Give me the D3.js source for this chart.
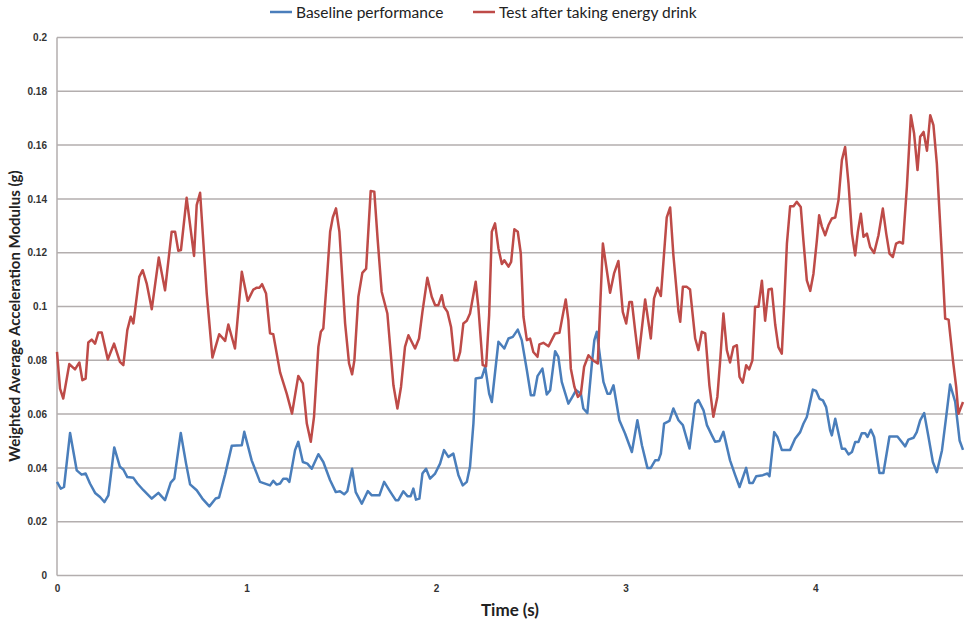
<!DOCTYPE html>
<html>
<head>
<meta charset="utf-8">
<script src="https://cdn.jsdelivr.net/npm/d3@7"></script>
<style>
  body { margin: 0; background: #fff; }
  svg { font-family: Lato, "Open Sans", sans-serif; }
  .grid line { stroke: #b3aeae; stroke-width: 1.5px; }
  .tick text { fill: #333; font-weight: bold; font-size: 10px; }
  .line { fill: none; stroke-width: 2.5px; stroke-linejoin: round; }
</style>
</head>
<body>
<script>
// series names
var seriesNames = ["Baseline performance", "Test after taking energy drink"];
var seriesColors = ["#4a7ebb", "#be4b48"];

var xTicks = [0, 1, 2, 3, 4];
var yTicks = [0, 0.02, 0.04, 0.06, 0.08, 0.1, 0.12, 0.14, 0.16, 0.18, 0.2];

// baseline (blue) - time (s) and value (g)
var baseTime = [0, 0.02, 0.037, 0.069, 0.104, 0.13, 0.151, 0.174, 0.201, 0.227, 0.25, 0.271, 0.302, 0.332, 0.35, 0.371, 0.403, 0.424, 0.456, 0.5,
  0.535, 0.57, 0.6, 0.619, 0.653, 0.681, 0.702, 0.737, 0.767, 0.804, 0.837, 0.855, 0.887, 0.922, 0.975, 0.988, 1.027, 1.071, 1.124, 1.141,
  1.159, 1.177, 1.194, 1.212, 1.226, 1.256, 1.273, 1.297, 1.321, 1.344, 1.379, 1.405, 1.441, 1.471, 1.493, 1.515, 1.532, 1.557, 1.576, 1.608,
  1.64, 1.661, 1.701, 1.726, 1.757, 1.787, 1.801, 1.827, 1.849, 1.866, 1.88, 1.894, 1.912, 1.928, 1.947, 1.968, 1.995, 2.021, 2.042, 2.065,
  2.091, 2.118, 2.141, 2.162, 2.179, 2.197, 2.209, 2.241, 2.259, 2.28, 2.294, 2.329, 2.36, 2.382, 2.405, 2.431, 2.452, 2.479, 2.5, 2.517,
  2.535, 2.561, 2.584, 2.602, 2.628, 2.645, 2.663, 2.698, 2.719, 2.739, 2.764, 2.777, 2.798, 2.822, 2.835, 2.848, 2.865, 2.883, 2.904, 2.918,
  2.936, 2.967, 2.997, 3.033, 3.062, 3.086, 3.115, 3.133, 3.156, 3.173, 3.186, 3.203, 3.231, 3.252, 3.279, 3.302, 3.337, 3.367, 3.384, 3.411,
  3.429, 3.455, 3.472, 3.495, 3.516, 3.551, 3.578, 3.601, 3.636, 3.653, 3.671, 3.689, 3.724, 3.748, 3.759, 3.784, 3.801, 3.824, 3.868, 3.894,
  3.921, 3.938, 3.956, 3.988, 4.005, 4.023, 4.041, 4.058, 4.079, 4.088, 4.106, 4.141, 4.158, 4.176, 4.194, 4.211, 4.228, 4.246, 4.264, 4.276,
  4.294, 4.311, 4.339, 4.36, 4.392, 4.434, 4.457, 4.475, 4.492, 4.519, 4.536, 4.554, 4.575, 4.598, 4.621, 4.642, 4.669, 4.691, 4.712, 4.739,
  4.762, 4.78];
var baseValue = [0.0348, 0.0323, 0.0329, 0.053, 0.0391, 0.0375, 0.0379, 0.0342, 0.0307, 0.0292, 0.0273, 0.0298, 0.0476, 0.0404, 0.0394, 0.0366, 0.0363, 0.0342, 0.0317, 0.0286,
  0.0307, 0.028, 0.0345, 0.036, 0.053, 0.0416, 0.0339, 0.0317, 0.0286, 0.0257, 0.0286, 0.029, 0.0376, 0.0482, 0.0484, 0.0534, 0.0428, 0.0348, 0.0335, 0.0352,
  0.0338, 0.0342, 0.036, 0.036, 0.0348, 0.0466, 0.0497, 0.0422, 0.0416, 0.0397, 0.0451, 0.0422, 0.0354, 0.031, 0.0313, 0.0302, 0.0314, 0.0397, 0.031, 0.0267,
  0.0314, 0.0298, 0.0298, 0.0348, 0.0313, 0.028, 0.028, 0.0313, 0.0295, 0.0295, 0.0323, 0.0282, 0.0286, 0.0379, 0.0397, 0.036, 0.0379, 0.0416, 0.0466, 0.0441,
  0.0453, 0.0373, 0.0335, 0.0348, 0.0404, 0.0565, 0.0732, 0.0736, 0.0776, 0.0676, 0.0645, 0.0869, 0.0844, 0.0881, 0.0887, 0.0914, 0.0875, 0.0763, 0.067, 0.067,
  0.0741, 0.0769, 0.0673, 0.0689, 0.0834, 0.0813, 0.072, 0.0639, 0.0664, 0.0689, 0.0676, 0.0621, 0.0604, 0.0788, 0.0875, 0.0906, 0.0813, 0.072, 0.0676, 0.0676,
  0.0707, 0.0577, 0.0528, 0.0459, 0.0577, 0.0484, 0.04, 0.04, 0.0428, 0.0428, 0.0453, 0.0565, 0.0575, 0.0621, 0.0577, 0.0559, 0.0472, 0.0639, 0.0652, 0.0614,
  0.0559, 0.0521, 0.0497, 0.05, 0.0534, 0.0428, 0.0373, 0.0329, 0.04, 0.0344, 0.0344, 0.0369, 0.0373, 0.0379, 0.0369, 0.0533, 0.0515, 0.0467, 0.0467, 0.0508,
  0.0533, 0.0564, 0.0589, 0.0691, 0.0686, 0.0657, 0.0651, 0.0626, 0.054, 0.0521, 0.0583, 0.0471, 0.0471, 0.045, 0.0459, 0.0496, 0.0496, 0.0529, 0.0529, 0.0515,
  0.0542, 0.0515, 0.0381, 0.0381, 0.0517, 0.0517, 0.0496, 0.048, 0.0505, 0.0512, 0.0533, 0.0577, 0.0604, 0.0515, 0.0422, 0.0384, 0.0465, 0.0589, 0.071, 0.0645,
  0.0502, 0.0467];

// after energy drink (red) - time (s) and value (g)
var drinkTime = [0, 0.016, 0.033, 0.065, 0.095, 0.118, 0.134, 0.151, 0.165, 0.183, 0.201, 0.218, 0.236, 0.268, 0.301, 0.332, 0.35, 0.371, 0.389, 0.403,
  0.434, 0.452, 0.473, 0.5, 0.537, 0.57, 0.605, 0.623, 0.64, 0.654, 0.684, 0.723, 0.737, 0.755, 0.79, 0.82, 0.856, 0.887, 0.904, 0.939,
  0.975, 1.006, 1.036, 1.054, 1.068, 1.082, 1.103, 1.124, 1.141, 1.177, 1.212, 1.24, 1.273, 1.297, 1.318, 1.339, 1.356, 1.379, 1.392, 1.405,
  1.423, 1.441, 1.455, 1.472, 1.49, 1.52, 1.541, 1.557, 1.569, 1.59, 1.611, 1.631, 1.655, 1.674, 1.692, 1.713, 1.743, 1.775, 1.796, 1.815,
  1.836, 1.854, 1.889, 1.91, 1.928, 1.954, 1.977, 1.995, 2.012, 2.03, 2.042, 2.06, 2.079, 2.097, 2.114, 2.127, 2.144, 2.162, 2.179, 2.209,
  2.223, 2.246, 2.264, 2.28, 2.294, 2.311, 2.329, 2.347, 2.36, 2.382, 2.396, 2.413, 2.431, 2.447, 2.461, 2.479, 2.496, 2.513, 2.535, 2.545,
  2.566, 2.593, 2.628, 2.651, 2.684, 2.698, 2.711, 2.73, 2.748, 2.764, 2.781, 2.804, 2.827, 2.853, 2.88, 2.918, 2.939, 2.962, 2.985, 3.003,
  3.02, 3.033, 3.05, 3.068, 3.103, 3.133, 3.15, 3.168, 3.186, 3.217, 3.235, 3.252, 3.279, 3.288, 3.302, 3.323, 3.34, 3.367, 3.384, 3.402,
  3.42, 3.442, 3.463, 3.484, 3.499, 3.516, 3.534, 3.551, 3.569, 3.587, 3.601, 3.618, 3.636, 3.652, 3.669, 3.683, 3.701, 3.719, 3.736, 3.754,
  3.771, 3.789, 3.806, 3.824, 3.836, 3.851, 3.868, 3.886, 3.903, 3.924, 3.938, 3.956, 3.974, 3.991, 4.009, 4.021, 4.035, 4.053, 4.07, 4.088,
  4.106, 4.123, 4.141, 4.158, 4.176, 4.194, 4.211, 4.225, 4.241, 4.255, 4.273, 4.29, 4.311, 4.334, 4.357, 4.375, 4.392, 4.41, 4.427, 4.445,
  4.463, 4.484, 4.505, 4.522, 4.54, 4.554, 4.572, 4.59, 4.607, 4.624, 4.642, 4.669, 4.686, 4.704, 4.727, 4.744, 4.756, 4.78];
var drinkValue = [0.0831, 0.0695, 0.0658, 0.0786, 0.0766, 0.0792, 0.0726, 0.0732, 0.0866, 0.0877, 0.0862, 0.0903, 0.0903, 0.0803, 0.0862, 0.0794, 0.0782, 0.0912, 0.0962, 0.0937,
  0.111, 0.1135, 0.1086, 0.099, 0.1182, 0.106, 0.1278, 0.1278, 0.1207, 0.121, 0.1404, 0.1188, 0.1377, 0.1423, 0.1048, 0.081, 0.0897, 0.0872, 0.0933, 0.0844,
  0.1129, 0.1021, 0.1063, 0.107, 0.107, 0.1083, 0.1048, 0.09, 0.0897, 0.0755, 0.0676, 0.0602, 0.0742, 0.0714, 0.0565, 0.0497, 0.059, 0.085, 0.0906, 0.0918,
  0.1092, 0.1278, 0.1331, 0.1365, 0.1278, 0.0937, 0.0788, 0.0748, 0.08, 0.1036, 0.1125, 0.1141, 0.1429, 0.1427, 0.1247, 0.1055, 0.0974, 0.0707, 0.0621, 0.0701,
  0.085, 0.0893, 0.0844, 0.0881, 0.098, 0.1107, 0.1036, 0.1005, 0.1005, 0.1042, 0.0999, 0.098, 0.0924, 0.08, 0.08, 0.0831, 0.0937, 0.0947, 0.0974, 0.1092,
  0.0999, 0.0782, 0.0778, 0.0968, 0.1278, 0.1309, 0.1216, 0.1158, 0.1172, 0.1148, 0.1166, 0.1287, 0.1278, 0.1197, 0.0962, 0.0875, 0.0881, 0.0831, 0.0813, 0.0859,
  0.0865, 0.0852, 0.09, 0.0902, 0.1026, 0.0949, 0.0769, 0.0701, 0.0664, 0.0676, 0.0776, 0.0819, 0.08, 0.0788, 0.1234, 0.1051, 0.1123, 0.1169, 0.098, 0.0937,
  0.1017, 0.1017, 0.0912, 0.0807, 0.1026, 0.0881, 0.103, 0.107, 0.1039, 0.1331, 0.1368, 0.1191, 0.098, 0.0943, 0.1073, 0.1073, 0.1063, 0.0881, 0.0838, 0.0906,
  0.09, 0.0707, 0.059, 0.0664, 0.08, 0.0974, 0.0838, 0.0792, 0.085, 0.0856, 0.0738, 0.0717, 0.0782, 0.0766, 0.08, 0.0999, 0.0999, 0.1096, 0.0947, 0.1063,
  0.1066, 0.0934, 0.0849, 0.0825, 0.0998, 0.1234, 0.1373, 0.1373, 0.1389, 0.137, 0.1246, 0.1097, 0.1058, 0.1122, 0.1246, 0.1339, 0.1298, 0.1265, 0.1302, 0.1327,
  0.1331, 0.1395, 0.1544, 0.1593, 0.1457, 0.1271, 0.119, 0.1277, 0.1345, 0.1259, 0.1271, 0.1221, 0.1199, 0.1265, 0.1364, 0.1271, 0.1197, 0.1184, 0.1234, 0.124,
  0.1234, 0.1445, 0.1711, 0.1643, 0.1507, 0.1631, 0.1649, 0.1579, 0.1711, 0.1674, 0.1531, 0.1184, 0.0955, 0.0951, 0.08, 0.0701, 0.0601, 0.0645];

var margin = {top: 37.5, right: 2, bottom: 50.5, left: 57};
var width = 965 - margin.left - margin.right;
var height = 626 - margin.top - margin.bottom;

var svg = d3.select("body").append("svg")
    .attr("width", 965)
    .attr("height", 626);

var g = svg.append("g")
    .attr("transform", "translate(" + margin.left + "," + margin.top + ")");

var xScale = d3.scaleLinear().domain([0, 4.78]).range([0, width]);
var yScale = d3.scaleLinear().domain([0, 0.2]).range([height, 0]);

// horizontal gridlines
g.append("g")
    .attr("class", "grid")
    .selectAll("line")
    .data(yTicks)
    .enter().append("line")
    .attr("x1", 0)
    .attr("x2", width)
    .attr("y1", d => yScale(d))
    .attr("y2", d => yScale(d));

// left axis line
g.append("line")
    .attr("x1", 0).attr("x2", 0)
    .attr("y1", 0).attr("y2", height)
    .attr("stroke", "#b3aeae")
    .attr("stroke-width", 1.5);

// y axis labels
var yAxis = g.append("g")
    .call(d3.axisLeft(yScale).tickValues(yTicks).tickSize(0).tickPadding(10)
      .tickFormat(d => String(+d.toFixed(2))));
yAxis.select(".domain").remove();

// x axis labels
var xAxis = g.append("g")
    .attr("transform", "translate(0," + height + ")")
    .call(d3.axisBottom(xScale).tickValues(xTicks).tickSize(0).tickPadding(9)
      .tickFormat(d3.format("d")));
xAxis.select(".domain").remove();

// lines
var line = d3.line()
    .x(d => xScale(d[0]))
    .y(d => yScale(d[1]));

var baseData = baseTime.map((t, i) => [t, baseValue[i]]);
var drinkData = drinkTime.map((t, i) => [t, drinkValue[i]]);

g.append("path")
    .datum(baseData)
    .attr("class", "line")
    .attr("stroke", seriesColors[0])
    .attr("d", line);

g.append("path")
    .datum(drinkData)
    .attr("class", "line")
    .attr("stroke", seriesColors[1])
    .attr("d", line);

// axis titles
svg.append("text")
    .attr("x", 510)
    .attr("y", 616)
    .style("text-anchor", "middle")
    .style("font-weight", "bold")
    .style("font-size", "17px")
    .attr("fill", "#222")
    .text("Time (s)");

svg.append("text")
    .attr("transform", "translate(20,316) rotate(-90)")
    .style("text-anchor", "middle")
    .style("font-weight", "bold")
    .style("font-size", "15px")
    .attr("fill", "#222")
    .text("Weighted Average Acceleration Modulus (g)");

// legend
var legendX = [270, 473];
var legend = svg.append("g");
seriesNames.forEach(function(name, i) {
  legend.append("line")
      .attr("x1", legendX[i]).attr("x2", legendX[i] + 22)
      .attr("y1", 12).attr("y2", 12)
      .attr("stroke", seriesColors[i])
      .attr("stroke-width", 2.5);
  legend.append("text")
      .attr("x", legendX[i] + 26)
      .attr("y", 17.5)
      .style("font-size", "15.5px")
      .attr("fill", "#222")
      .text(name);
});
</script>
</body>
</html>
